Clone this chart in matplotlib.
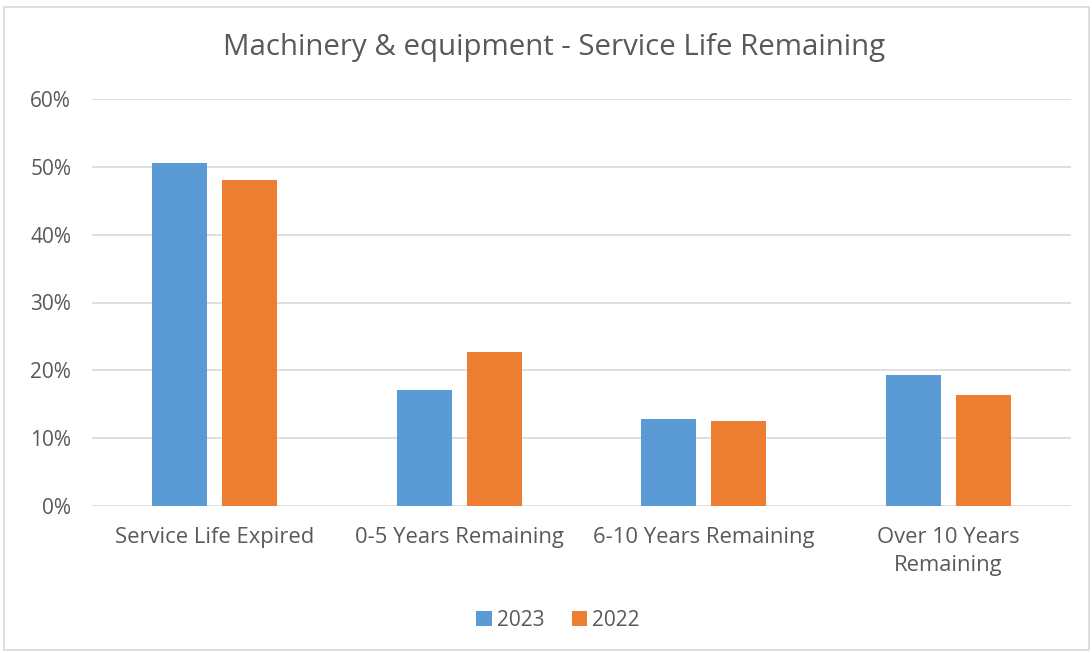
import matplotlib
matplotlib.use("Agg")
import matplotlib.pyplot as plt
import numpy as np
from matplotlib.patches import Rectangle

categories = ["Service Life Expired", "0-5 Years Remaining", "6-10 Years Remaining", "Over 10 Years\nRemaining"]
series_names = ["2023", "2022"]
values_2023 = [50.6, 17.1, 12.8, 19.3]
values_2022 = [48.1, 22.7, 12.5, 16.4]
yticks = [0, 10, 20, 30, 40, 50, 60]
title = "Machinery & equipment - Service Life Remaining"

W, H = 1092, 653
fig = plt.figure(figsize=(W/100, H/100), dpi=100)
plt.rcParams['font.family'] = ['Open Sans', 'DejaVu Sans']
text_color = "#595959"

# outer border
fig.patches.append(Rectangle((4/W, 1-650/H), 1085/W, 643/H, transform=fig.transFigure,
                             fill=False, edgecolor="#d9d9d9", linewidth=1.2))

ax = fig.add_axes([92/W, 1-506/H, (1071-92)/W, (506-99)/H])
x = np.arange(len(categories))
bw = 0.225
off = 0.143
ax.bar(x - off, values_2023, bw, color="#5b9bd5", label=series_names[0], zorder=3)
ax.bar(x + off, values_2022, bw, color="#ed7d31", label=series_names[1], zorder=3)

ax.set_xlim(-0.5, len(categories) - 0.5)
ax.set_ylim(0, 60)
ax.set_yticks(yticks)
ax.set_yticklabels([f"{t}%" for t in yticks], fontsize=15, color=text_color)
ax.set_xticks(x)
ax.set_xticklabels(categories, fontsize=15.8, color=text_color, linespacing=1.42)
ax.tick_params(axis='both', length=0)
ax.tick_params(axis='y', pad=15)
ax.tick_params(axis='x', pad=15)
ax.grid(axis='y', color="#d9d9d9", linewidth=1.2, zorder=0)
for s in ax.spines.values():
    s.set_visible(False)

fig.text(554/W, 1-47/H, title, ha='center', va='center', fontsize=21.2, color=text_color)

leg = fig.legend(loc='center', bbox_to_anchor=(558/W, 1-620/H), ncol=2, frameon=False,
                 fontsize=15, handlelength=0.75, handleheight=0.75, handletextpad=0.25,
                 columnspacing=1.3)
for t in leg.get_texts():
    t.set_color(text_color)

fig.savefig("out.png", dpi=100)
